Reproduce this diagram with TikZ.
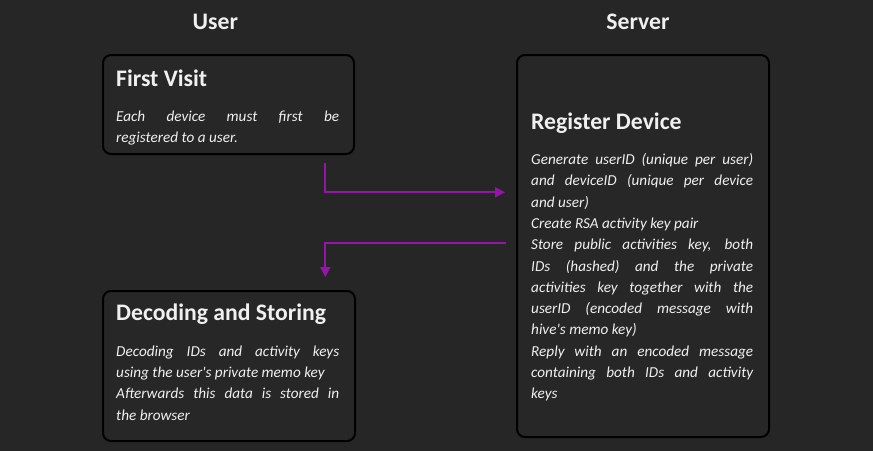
\documentclass[tikz,border=0pt]{standalone}
\usepackage{fontspec}
\setmainfont{Carlito}
\usetikzlibrary{arrows.meta}
\hyphenpenalty=10000
\exhyphenpenalty=10000
\setlength{\parindent}{0pt}
\definecolor{bg}{RGB}{38,38,38}
\definecolor{boxfill}{RGB}{39,39,39}
\definecolor{txt}{RGB}{240,240,240}
\definecolor{arr}{RGB}{150,20,170}
\tikzset{
  card/.style={draw=black, line width=2pt, rounded corners=8pt, fill=boxfill, inner sep=0pt, anchor=north west},
  header/.style={text=txt, font=\fontsize{23.7}{28}\selectfont\bfseries, anchor=base, inner sep=0pt},
  title/.style={text=txt, font=\fontsize{23.7}{28}\selectfont\bfseries, anchor=base west, inner sep=0pt},
  body/.style={text=txt, font=\fontsize{15.2}{21.3}\selectfont\itshape, anchor=north west, inner sep=0pt, text width=223pt, align=justify},
  flow/.style={draw=arr, line width=2pt, -{Triangle[length=10pt,width=10pt]}}
}
\begin{document}
\begin{tikzpicture}[x=1pt,y=-1pt]
\fill[bg] (0,0) rectangle (873,451);
\useasboundingbox (0,0) rectangle (873,451);
\node[header] (hu) at (215.3,29) {User};
\node[header] (hs) at (638,29) {Server};
% boxes
\node[card, minimum width=251pt, minimum height=99pt] (fv) at (102,54) {};
\node[card, minimum width=252pt, minimum height=382pt] (rd) at (516,54) {};
\node[card, minimum width=252pt, minimum height=150pt] (ds) at (102,290) {};
% titles
\node[title] (fvt) at (116,86) {First Visit};
\node[title] (rdt) at (531,129) {Register Device};
\node[title] (dst) at (116,320.7) {Decoding and Storing};
% bodies
\node[body] (fvb) at (116,106.1) {\strut Each device must first be\linebreak registered to a user.};
\node[body, text width=222pt] (rdb) at (531,149.4) {\strut Generate userID (unique per user)\linebreak and deviceID (unique per device\linebreak and user)\par
Create RSA activity key pair\par
Store public activities key, both\linebreak IDs (hashed) and the private\linebreak activities key together with the\linebreak userID (encoded message with\linebreak hive\textquotesingle s memo key)\par
Reply with an encoded message\linebreak containing both IDs and activity\linebreak keys};
\node[body] (dsb) at (116,341.1) {\strut Decoding IDs and activity keys\linebreak using the user\textquotesingle s private memo key\par
Afterwards this data is stored in\linebreak the browser};
% connectors
\coordinate (a1s) at (325.3,163);
\coordinate (a1e) at (505,192.3);
\coordinate (a2s) at (506,243.3);
\coordinate (a2e) at (325.3,277);
\draw[flow] (a1s) |- (a1e);
\draw[flow] (a2s) -| (a2e);
\end{tikzpicture}
\end{document}
